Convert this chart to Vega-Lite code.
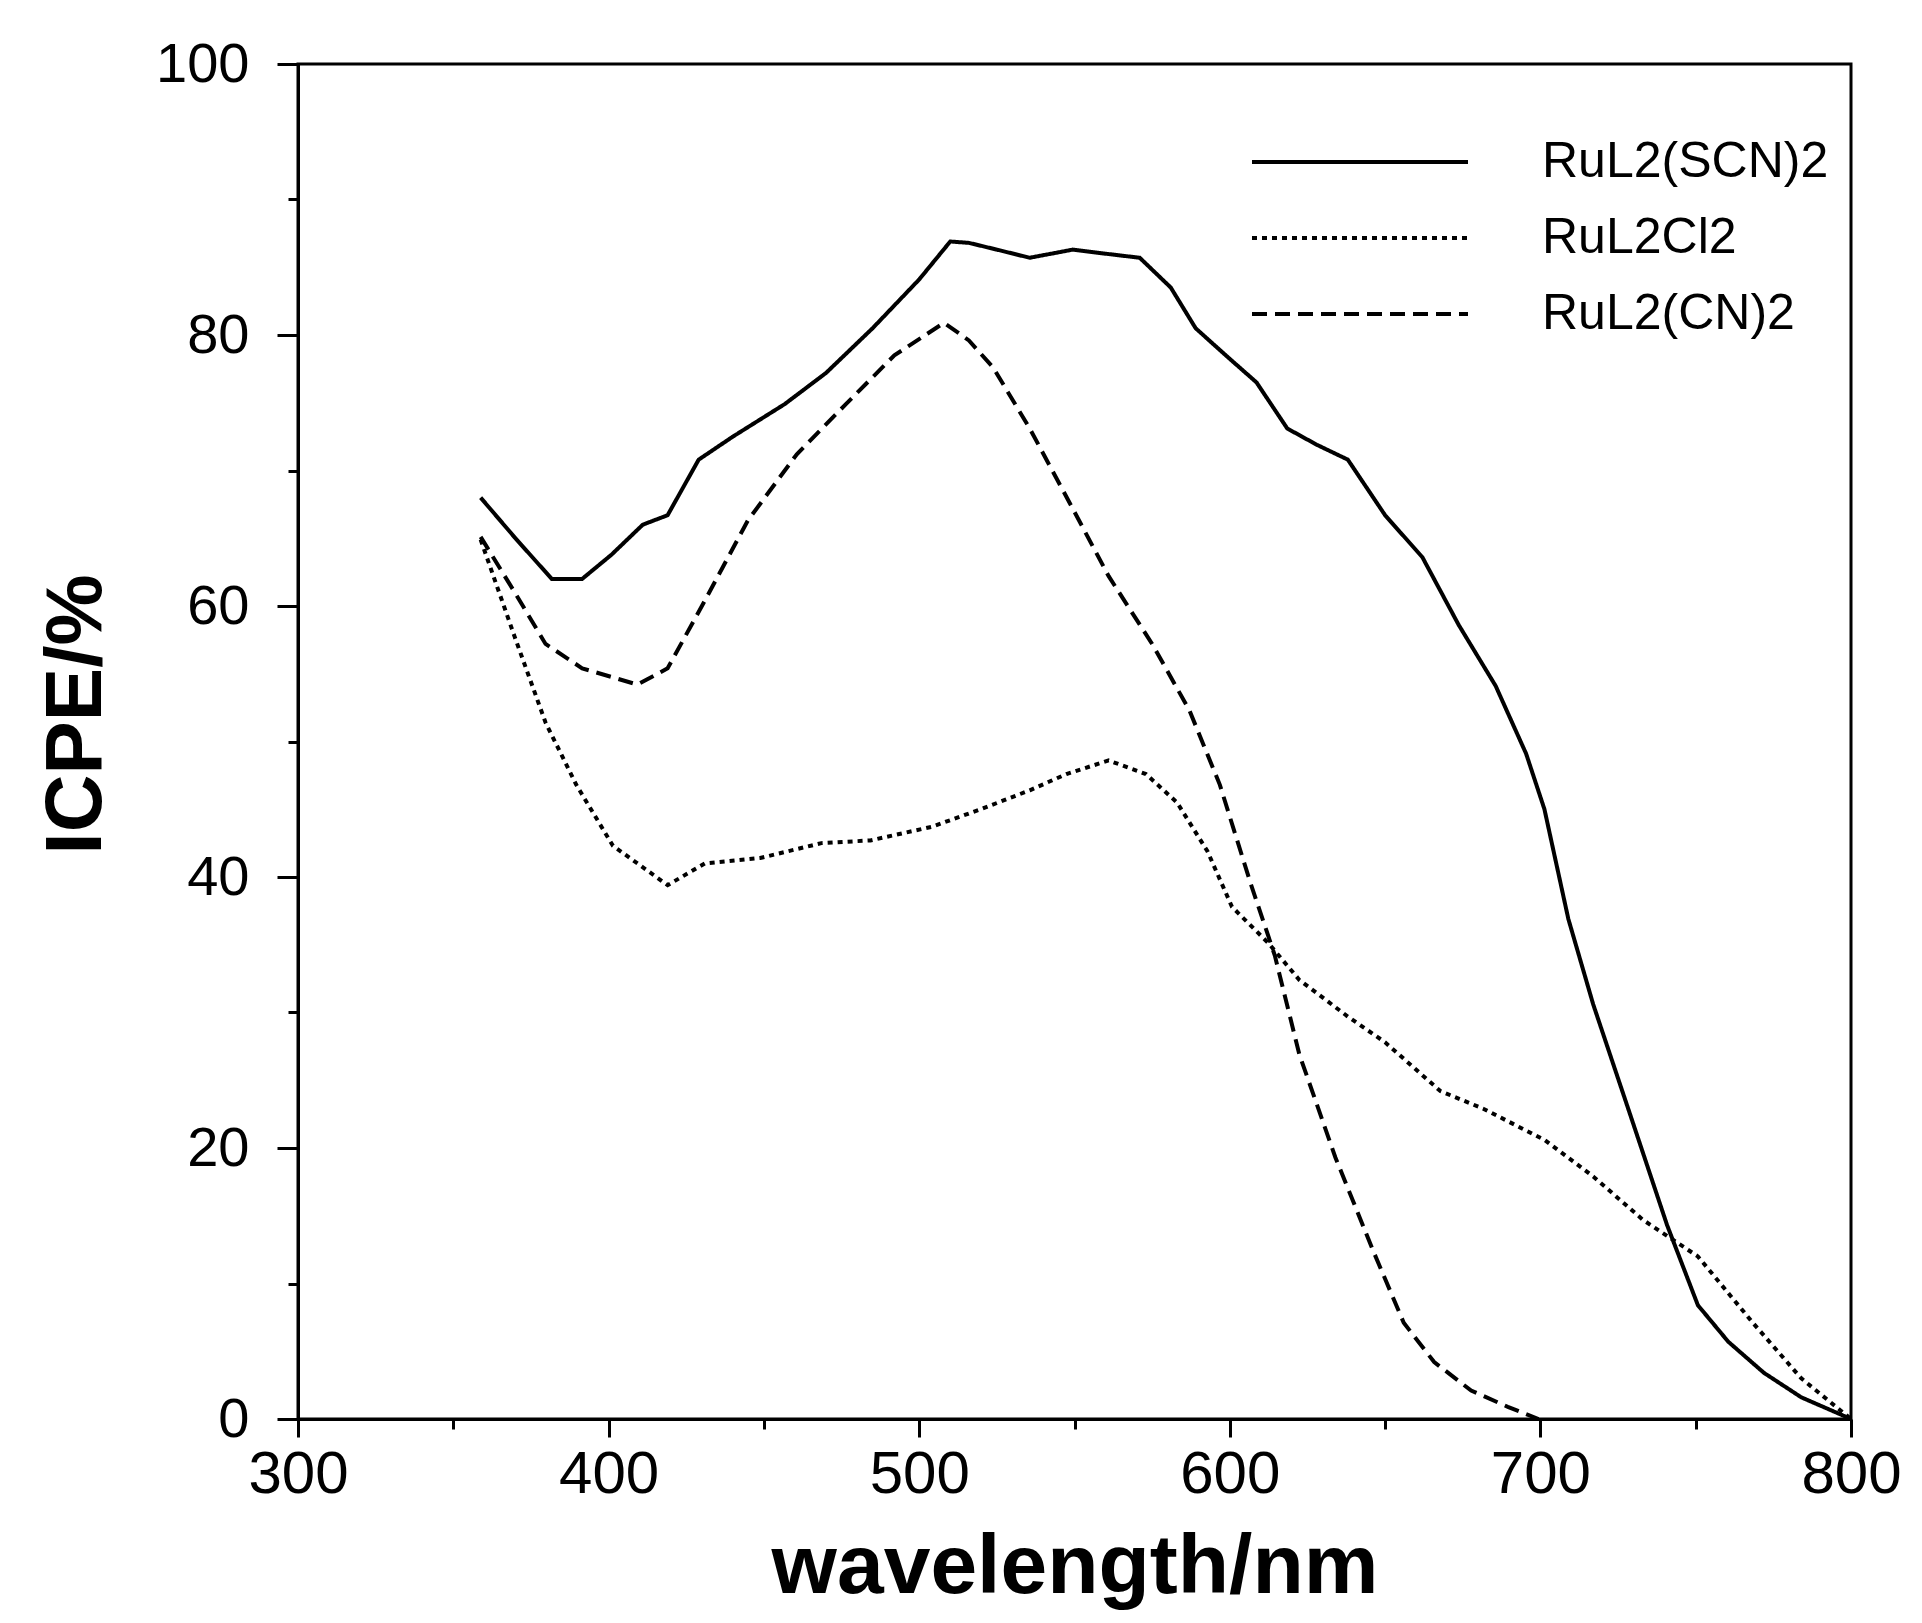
{
  "$schema": "https://vega.github.io/schema/vega-lite/v6.json",
  "width": 1553,
  "height": 1355,
  "autosize": "none",
  "padding": {"left": 298, "top": 64, "right": 71, "bottom": 204},
  "background": "white",
  "config": {
    "font": "Liberation Sans",
    "view": {"stroke": "black", "strokeWidth": 3},
    "axis": {"domainColor": "black", "domainWidth": 3, "tickColor": "black", "tickWidth": 3, "labelColor": "black", "titleColor": "black", "grid": false, "labelFont": "Liberation Sans", "titleFont": "Liberation Sans"}
  },
  "data": {"values": [
    {"s": "RuL2(SCN)2", "x": 358.8, "y": 68.0},
    {"s": "RuL2(SCN)2", "x": 370, "y": 65},
    {"s": "RuL2(SCN)2", "x": 381.7, "y": 62.0},
    {"s": "RuL2(SCN)2", "x": 391.5, "y": 62.0},
    {"s": "RuL2(SCN)2", "x": 401, "y": 63.8},
    {"s": "RuL2(SCN)2", "x": 411, "y": 66},
    {"s": "RuL2(SCN)2", "x": 419, "y": 66.7},
    {"s": "RuL2(SCN)2", "x": 429, "y": 70.8},
    {"s": "RuL2(SCN)2", "x": 440, "y": 72.5},
    {"s": "RuL2(SCN)2", "x": 456.7, "y": 74.9},
    {"s": "RuL2(SCN)2", "x": 470, "y": 77.2},
    {"s": "RuL2(SCN)2", "x": 485, "y": 80.5},
    {"s": "RuL2(SCN)2", "x": 500, "y": 84.1},
    {"s": "RuL2(SCN)2", "x": 510, "y": 86.9},
    {"s": "RuL2(SCN)2", "x": 516, "y": 86.8},
    {"s": "RuL2(SCN)2", "x": 525, "y": 86.3},
    {"s": "RuL2(SCN)2", "x": 535.6, "y": 85.7},
    {"s": "RuL2(SCN)2", "x": 549.4, "y": 86.3},
    {"s": "RuL2(SCN)2", "x": 560, "y": 86.0},
    {"s": "RuL2(SCN)2", "x": 571, "y": 85.7},
    {"s": "RuL2(SCN)2", "x": 581, "y": 83.5},
    {"s": "RuL2(SCN)2", "x": 589, "y": 80.5},
    {"s": "RuL2(SCN)2", "x": 598.7, "y": 78.5},
    {"s": "RuL2(SCN)2", "x": 608.6, "y": 76.5},
    {"s": "RuL2(SCN)2", "x": 618.5, "y": 73.1},
    {"s": "RuL2(SCN)2", "x": 628, "y": 71.9},
    {"s": "RuL2(SCN)2", "x": 638, "y": 70.8},
    {"s": "RuL2(SCN)2", "x": 650, "y": 66.7},
    {"s": "RuL2(SCN)2", "x": 662, "y": 63.6},
    {"s": "RuL2(SCN)2", "x": 673.7, "y": 58.6},
    {"s": "RuL2(SCN)2", "x": 685.6, "y": 54.1},
    {"s": "RuL2(SCN)2", "x": 695.4, "y": 49.1},
    {"s": "RuL2(SCN)2", "x": 701.3, "y": 45.0},
    {"s": "RuL2(SCN)2", "x": 709, "y": 36.9},
    {"s": "RuL2(SCN)2", "x": 717, "y": 30.6},
    {"s": "RuL2(SCN)2", "x": 729, "y": 22.4},
    {"s": "RuL2(SCN)2", "x": 740.8, "y": 14.3},
    {"s": "RuL2(SCN)2", "x": 750.7, "y": 8.4},
    {"s": "RuL2(SCN)2", "x": 760.5, "y": 5.7},
    {"s": "RuL2(SCN)2", "x": 772, "y": 3.4},
    {"s": "RuL2(SCN)2", "x": 784, "y": 1.6},
    {"s": "RuL2(SCN)2", "x": 800, "y": 0},
    {"s": "RuL2Cl2", "x": 358.8, "y": 64.9},
    {"s": "RuL2Cl2", "x": 369.8, "y": 57.7},
    {"s": "RuL2Cl2", "x": 379.7, "y": 51.4},
    {"s": "RuL2Cl2", "x": 389.6, "y": 46.8},
    {"s": "RuL2Cl2", "x": 401.4, "y": 42.3},
    {"s": "RuL2Cl2", "x": 419, "y": 39.4},
    {"s": "RuL2Cl2", "x": 431, "y": 41.0},
    {"s": "RuL2Cl2", "x": 448.8, "y": 41.4},
    {"s": "RuL2Cl2", "x": 468.5, "y": 42.5},
    {"s": "RuL2Cl2", "x": 484.3, "y": 42.7},
    {"s": "RuL2Cl2", "x": 504, "y": 43.7},
    {"s": "RuL2Cl2", "x": 519.8, "y": 45.0},
    {"s": "RuL2Cl2", "x": 535.6, "y": 46.4},
    {"s": "RuL2Cl2", "x": 547.4, "y": 47.6},
    {"s": "RuL2Cl2", "x": 561, "y": 48.6},
    {"s": "RuL2Cl2", "x": 573, "y": 47.6},
    {"s": "RuL2Cl2", "x": 583, "y": 45.5},
    {"s": "RuL2Cl2", "x": 592.8, "y": 41.9},
    {"s": "RuL2Cl2", "x": 600.7, "y": 37.8},
    {"s": "RuL2Cl2", "x": 612.5, "y": 35.1},
    {"s": "RuL2Cl2", "x": 622.4, "y": 32.4},
    {"s": "RuL2Cl2", "x": 638, "y": 29.7},
    {"s": "RuL2Cl2", "x": 650, "y": 27.8},
    {"s": "RuL2Cl2", "x": 667.8, "y": 24.2},
    {"s": "RuL2Cl2", "x": 681.6, "y": 22.9},
    {"s": "RuL2Cl2", "x": 701.3, "y": 20.6},
    {"s": "RuL2Cl2", "x": 717, "y": 17.9},
    {"s": "RuL2Cl2", "x": 733, "y": 14.7},
    {"s": "RuL2Cl2", "x": 750.7, "y": 12.0},
    {"s": "RuL2Cl2", "x": 768.4, "y": 7.1},
    {"s": "RuL2Cl2", "x": 784, "y": 3.0},
    {"s": "RuL2Cl2", "x": 800, "y": 0},
    {"s": "RuL2(CN)2", "x": 358.8, "y": 65.1},
    {"s": "RuL2(CN)2", "x": 369.8, "y": 61.0},
    {"s": "RuL2(CN)2", "x": 379.7, "y": 57.2},
    {"s": "RuL2(CN)2", "x": 391.5, "y": 55.4},
    {"s": "RuL2(CN)2", "x": 409.3, "y": 54.2},
    {"s": "RuL2(CN)2", "x": 419, "y": 55.4},
    {"s": "RuL2(CN)2", "x": 431, "y": 60.4},
    {"s": "RuL2(CN)2", "x": 444.8, "y": 66.3},
    {"s": "RuL2(CN)2", "x": 460.6, "y": 71.2},
    {"s": "RuL2(CN)2", "x": 476.4, "y": 74.9},
    {"s": "RuL2(CN)2", "x": 492, "y": 78.5},
    {"s": "RuL2(CN)2", "x": 508, "y": 80.9},
    {"s": "RuL2(CN)2", "x": 516, "y": 79.6},
    {"s": "RuL2(CN)2", "x": 523.8, "y": 77.6},
    {"s": "RuL2(CN)2", "x": 535.6, "y": 73.1},
    {"s": "RuL2(CN)2", "x": 549.4, "y": 67.2},
    {"s": "RuL2(CN)2", "x": 561, "y": 62.2},
    {"s": "RuL2(CN)2", "x": 575, "y": 57.2},
    {"s": "RuL2(CN)2", "x": 587, "y": 52.3},
    {"s": "RuL2(CN)2", "x": 596.8, "y": 46.8},
    {"s": "RuL2(CN)2", "x": 606.6, "y": 39.6},
    {"s": "RuL2(CN)2", "x": 614.5, "y": 34.2},
    {"s": "RuL2(CN)2", "x": 622.4, "y": 26.9},
    {"s": "RuL2(CN)2", "x": 634, "y": 19.3},
    {"s": "RuL2(CN)2", "x": 646, "y": 12.5},
    {"s": "RuL2(CN)2", "x": 656, "y": 7.1},
    {"s": "RuL2(CN)2", "x": 665.8, "y": 4.2},
    {"s": "RuL2(CN)2", "x": 677.7, "y": 2.1},
    {"s": "RuL2(CN)2", "x": 689.5, "y": 0.9},
    {"s": "RuL2(CN)2", "x": 699.4, "y": 0}
  ]},
  "layer": [
    {
      "mark": {"type": "line", "opacity": 0},
      "encoding": {
        "x": {"field": "x", "type": "quantitative", "scale": {"domain": [300, 800], "nice": false, "zero": false},
          "axis": {"orient": "bottom", "values": [350, 450, 550, 650, 750], "tickSize": 10, "labels": false, "domain": false, "title": null}},
        "y": {"field": "y", "type": "quantitative", "scale": {"domain": [0, 100], "nice": false},
          "axis": {"orient": "left", "values": [10, 30, 50, 70, 90], "tickSize": 10, "labels": false, "domain": false, "title": null}},
        "detail": {"field": "s"}
      }
    },
    {
      "mark": {"type": "line", "color": "black", "strokeWidth": 4},
      "encoding": {
        "x": {"field": "x", "type": "quantitative", "scale": {"domain": [300, 800], "nice": false, "zero": false},
          "axis": {"orient": "bottom", "values": [300, 400, 500, 600, 700, 800], "tickSize": 18, "labelFontSize": 60, "labelPadding": 8, "labelFlush": false,
            "title": "wavelength/nm", "titleFontSize": 84, "titleFontWeight": "bold", "titlePadding": 22}},
        "y": {"field": "y", "type": "quantitative", "scale": {"domain": [0, 100], "nice": false},
          "axis": {"orient": "left", "values": [0, 20, 40, 60, 80, 100], "tickSize": 21, "labelFontSize": 56, "labelPadding": 28, "labelFlush": false,
            "title": "ICPE/%", "titleFontSize": 80, "titleFontWeight": "bold", "titlePadding": 38, "titleY": 650}},
        "strokeDash": {"field": "s", "type": "nominal",
          "scale": {"domain": ["RuL2(SCN)2", "RuL2Cl2", "RuL2(CN)2"], "range": [[1, 0], [5, 5], [15, 8]]},
          "legend": {"title": null, "orient": "none", "legendX": 1096, "legendY": 60, "padding": 0,
            "symbolType": "M-5,0H1", "symbolSize": 5184, "symbolStrokeWidth": 4, "symbolStrokeColor": "black",
            "labelFontSize": 50, "labelOffset": 72, "rowPadding": 13, "labelColor": "black", "labelLimit": 400}}
      }
    }
  ],
  "resolve": {"axis": {"x": "independent", "y": "independent"}}
}
